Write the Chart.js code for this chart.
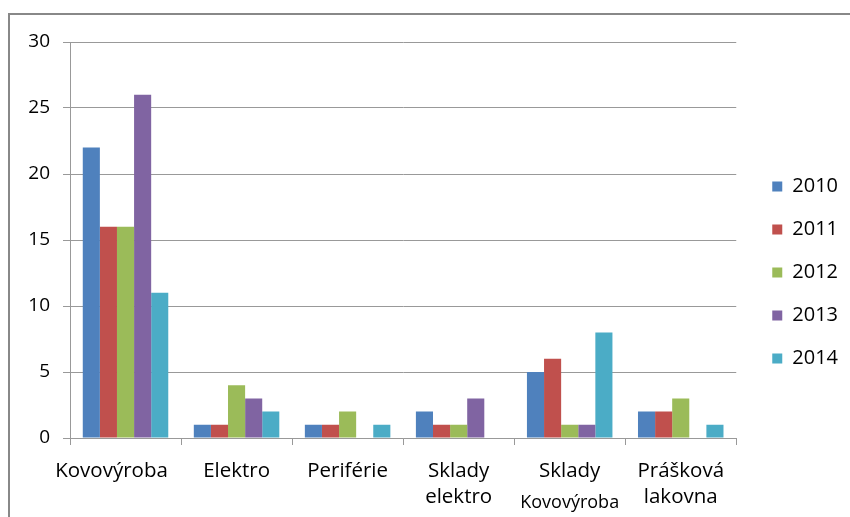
<!DOCTYPE html>
<html>
<head>
<meta charset="utf-8">
<script src="https://cdn.jsdelivr.net/npm/chart.js@4/dist/chart.umd.min.js"></script>
<style>
  html, body { margin: 0; padding: 0; background: #fff; }
  #frame { position: absolute; left: 8px; top: 13px; width: 900px; height: 600px;
           border: 2px solid #888; box-sizing: border-box; }
  #wrap { position: absolute; left: 0; top: 0; width: 850px; height: 517px; }
</style>
</head>
<body>
<div id="frame"></div>
<div id="wrap"><canvas id="c" width="850" height="517"></canvas></div>
<script>
// Categories (multi-line labels) and series per year
const categories = [
  ["Kovovýroba"],
  ["Elektro"],
  ["Periférie"],
  ["Sklady", "elektro"],
  ["Sklady", "Kovovýroba"],
  ["Prášková", "lakovna"]
];
const years = ["2010", "2011", "2012", "2013", "2014"];
const v2010 = [22, 1, 1, 2, 5, 2];
const v2011 = [16, 1, 1, 1, 6, 2];
const v2012 = [16, 4, 2, 1, 1, 3];
const v2013 = [26, 3, 0, 3, 1, 0];
const v2014 = [11, 2, 1, 0, 8, 1];
const yTicks = [0, 5, 10, 15, 20, 25, 30];

const colors = ["#4F81BD", "#C0504D", "#9BBB59", "#8064A2", "#4BACC6"];
const seriesValues = [v2010, v2011, v2012, v2013, v2014];
const FONT = "'Open Sans', sans-serif";
const GRID = "#999999";

// Category labels drawn under the axis; the second line of
// "Sklady Kovovýroba" uses a smaller face, the first label sits a bit left.
const categoryLabels = {
  id: "categoryLabels",
  afterDraw(chart) {
    const xs = chart.scales.x;
    const ctx = chart.ctx;
    const base = chart.chartArea.bottom;
    ctx.save();
    ctx.fillStyle = "#000";
    ctx.textAlign = "center";
    ctx.textBaseline = "alphabetic";
    categories.forEach((lines, i) => {
      const x = xs.getPixelForTick(i) + (i === 0 ? -14 : 0);
      lines.forEach((txt, j) => {
        let size = 20.5, y = base + 39 + j * 26;
        if (i === 4 && j === 1) { size = 18; y = base + 70; }
        ctx.font = size + "px " + FONT;
        ctx.fillText(txt, x, y);
      });
    });
    ctx.restore();
  }
};

// Nudge the legend block within its box
const legendShift = {
  id: "legendShift",
  afterLayout(chart) {
    const lg = chart.legend;
    if (lg) {
      lg.left += 13; lg.right += 13;
      lg.top -= 7; lg.bottom -= 7;
    }
  }
};

new Chart(document.getElementById("c"), {
  type: "bar",
  data: {
    labels: categories.map(l => l.join(" ")),
    datasets: years.map((y, k) => ({
      label: y,
      data: seriesValues[k],
      backgroundColor: colors[k],
      borderWidth: 0,
      categoryPercentage: 0.77,
      barPercentage: 1
    }))
  },
  options: {
    responsive: false,
    animation: false,
    layout: { padding: { top: 42, right: 15, left: 0, bottom: 0 } },
    plugins: {
      tooltip: { enabled: false },
      legend: {
        position: "right",
        labels: {
          boxWidth: 10, boxHeight: 10, padding: 23,
          color: "#000",
          font: { family: FONT, size: 20 }
        }
      }
    },
    scales: {
      x: {
        grid: { offset: true, drawOnChartArea: false, color: GRID, tickLength: 7 },
        border: { color: GRID },
        ticks: { color: "transparent", font: { size: 19, family: FONT } },
        afterFit(s) { s.height = 79; }
      },
      y: {
        min: 0, max: 30,
        afterBuildTicks(s) { s.ticks = yTicks.map(v => ({ value: v })); },
        ticks: { color: "#000", padding: 13, font: { family: FONT, size: 19 } },
        grid: { color: GRID, tickLength: 7 },
        border: { color: GRID },
        afterFit(s) { s.width = 70; }
      }
    }
  },
  plugins: [categoryLabels, legendShift]
});
</script>
</body>
</html>
